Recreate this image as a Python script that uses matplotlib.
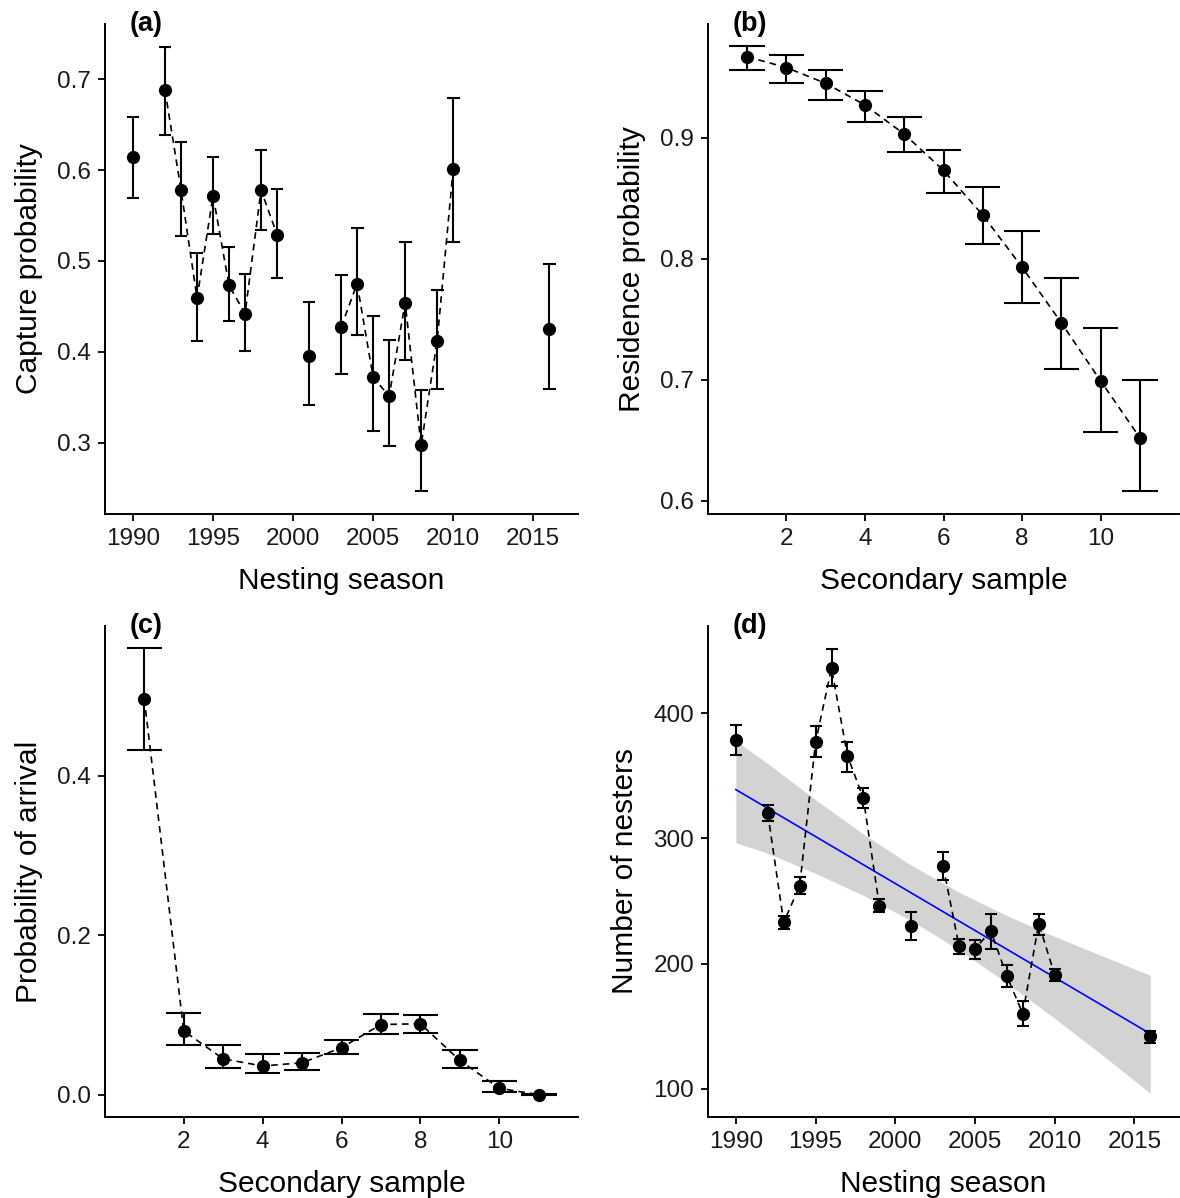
import numpy as np
import matplotlib

matplotlib.use('Agg')
import matplotlib.pyplot as plt

plt.rcParams['font.family'] = ['Liberation Sans', 'DejaVu Sans']

# (a) capture probability by nesting season (NaN = no survey, breaks the line)
years_a = [1990, 1991, 1992, 1993, 1994, 1995, 1996, 1997, 1998, 1999, 2000, 2001, 2002,
           2003, 2004, 2005, 2006, 2007, 2008, 2009, 2010, 2011, 2016]
cap_p = [0.614, np.nan, 0.688, 0.578, 0.459, 0.572, 0.473, 0.442, 0.578, 0.529, np.nan, 0.395, np.nan,
         0.427, 0.475, 0.372, 0.351, 0.454, 0.297, 0.412, 0.601, np.nan, 0.425]
cap_lo = [0.569, np.nan, 0.639, 0.527, 0.412, 0.530, 0.434, 0.401, 0.534, 0.481, np.nan, 0.341, np.nan,
          0.375, 0.418, 0.313, 0.296, 0.391, 0.247, 0.359, 0.521, np.nan, 0.359]
cap_hi = [0.659, np.nan, 0.736, 0.631, 0.509, 0.614, 0.515, 0.486, 0.622, 0.579, np.nan, 0.455, np.nan,
          0.484, 0.536, 0.439, 0.413, 0.521, 0.358, 0.468, 0.679, np.nan, 0.497]

# (b) residence probability by secondary sample
samples = [1, 2, 3, 4, 5, 6, 7, 8, 9, 10, 11]
res_p = [0.967, 0.958, 0.945, 0.927, 0.903, 0.873, 0.836, 0.793, 0.747, 0.699, 0.652]
res_lo = [0.956, 0.945, 0.931, 0.913, 0.888, 0.854, 0.812, 0.763, 0.709, 0.657, 0.608]
res_hi = [0.976, 0.968, 0.956, 0.939, 0.917, 0.890, 0.859, 0.823, 0.784, 0.743, 0.700]

# (c) probability of arrival by secondary sample
arr_p = [0.497, 0.080, 0.045, 0.036, 0.040, 0.059, 0.088, 0.089, 0.043, 0.008, 0.000]
arr_lo = [0.432, 0.062, 0.033, 0.027, 0.031, 0.051, 0.076, 0.078, 0.033, 0.003, 0.000]
arr_hi = [0.560, 0.102, 0.062, 0.051, 0.052, 0.069, 0.101, 0.100, 0.056, 0.017, 0.001]

# (d) number of nesters by nesting season
years_d = [1990, 1991, 1992, 1993, 1994, 1995, 1996, 1997, 1998, 1999, 2000, 2001, 2002,
           2003, 2004, 2005, 2006, 2007, 2008, 2009, 2010, 2011, 2016]
nest_n = [379, np.nan, 320, 233, 262, 377, 436, 366, 332, 246, np.nan, 230, np.nan,
          278, 214, 212, 226, 190, 160, 232, 191, np.nan, 142]
nest_lo = [367, np.nan, 314, 228, 256, 365, 422, 353, 324, 241, np.nan, 219, np.nan,
           267, 208, 204, 212, 181, 150, 223, 186, np.nan, 137]
nest_hi = [391, np.nan, 327, 238, 269, 390, 451, 377, 340, 252, np.nan, 241, np.nan,
           289, 220, 219, 240, 199, 170, 240, 196, np.nan, 146]

# (d) trend line and its confidence band
trend_years = [1990, 1992, 1995, 1998, 2001, 2004, 2007, 2010, 2013, 2016]
trend_fit = [339, 324, 301.5, 279, 256.5, 234, 211.5, 189, 166.5, 144]
band_hi = [378, 359.8, 330.9, 303.5, 278.6, 257, 238.4, 221.7, 206.1, 190.7]
band_lo = [296.6, 288.2, 272.1, 254.5, 234.4, 211, 184.6, 156.3, 126.9, 96.4]

W, H = 1180, 1198
fig = plt.figure(figsize=(W / 100, H / 100), dpi=100)


def add_ax(left, top, right, bottom):
    return fig.add_axes([left / W, 1 - bottom / H, (right - left) / W, (bottom - top) / H])


def style(ax, label, xlabel, ylabel):
    for s in ['top', 'right']:
        ax.spines[s].set_visible(False)
    for s in ['left', 'bottom']:
        ax.spines[s].set_linewidth(1.4)
    ax.tick_params(length=5, width=1.3, labelsize=17.5, pad=5, labelcolor='#1a1a1a')
    ax.set_xlabel(xlabel, fontsize=21.5, labelpad=12)
    ax.set_ylabel(ylabel, fontsize=21.5, labelpad=10)
    ax.text(0.088, 1.0, label, transform=ax.transAxes, fontsize=19.5, fontweight='bold',
            ha='center', va='center', clip_on=False)


def draw(ax, x, y, lo, hi, capw):
    x = np.asarray(x, float)
    y = np.asarray(y, float)
    lo = np.asarray(lo, float)
    hi = np.asarray(hi, float)
    ok = ~np.isnan(y)
    ax.plot(x, y, color='black', lw=1.2, ls=(0, (4, 3)), zorder=2)
    ax.vlines(x[ok], lo[ok], hi[ok], color='black', lw=1.5, zorder=3)
    ax.hlines(lo[ok], x[ok] - capw / 2, x[ok] + capw / 2, color='black', lw=1.5, zorder=3)
    ax.hlines(hi[ok], x[ok] - capw / 2, x[ok] + capw / 2, color='black', lw=1.5, zorder=3)
    ax.plot(x[ok], y[ok], 'o', color='black', ms=8.5, zorder=4)


# panel a
ax = add_ax(105, 24, 578, 514)
draw(ax, years_a, cap_p, cap_lo, cap_hi, 0.8)
ax.set_xlim(1988.25, 2017.8)
ax.set_ylim(0.2213, 0.761)
ax.set_xticks([1990, 1995, 2000, 2005, 2010, 2015])
ax.set_yticks([0.3, 0.4, 0.5, 0.6, 0.7])
style(ax, '(a)', 'Nesting season', 'Capture probability')

# panel b
ax = add_ax(708, 24, 1179, 514)
draw(ax, samples, res_p, res_lo, res_hi, 0.9)
ax.set_xlim(0.005, 11.995)
ax.set_ylim(0.589, 0.994)
ax.set_xticks([2, 4, 6, 8, 10])
ax.set_yticks([0.6, 0.7, 0.8, 0.9])
style(ax, '(b)', 'Secondary sample', 'Residence probability')

# panel c
ax = add_ax(105, 626, 578, 1117)
draw(ax, samples, arr_p, arr_lo, arr_hi, 0.9)
ax.set_xlim(0.005, 11.995)
ax.set_ylim(-0.028, 0.588)
ax.set_xticks([2, 4, 6, 8, 10])
ax.set_yticks([0.0, 0.2, 0.4])
style(ax, '(c)', 'Secondary sample', 'Probability of arrival')

# panel d
ax = add_ax(708, 626, 1179, 1117)
ax.fill_between(trend_years, band_lo, band_hi, color='#d3d3d3', lw=0, zorder=1)
ax.plot(trend_years, trend_fit, color='#0000ff', lw=1.2, zorder=2)
draw(ax, years_d, nest_n, nest_lo, nest_hi, 0.75)
ax.set_xlim(1988.25, 2017.8)
ax.set_ylim(77.5, 469.7)
ax.set_xticks([1990, 1995, 2000, 2005, 2010, 2015])
ax.set_yticks([100, 200, 300, 400])
style(ax, '(d)', 'Nesting season', 'Number of nesters')

plt.savefig('out.png', dpi=100)
plt.close()
